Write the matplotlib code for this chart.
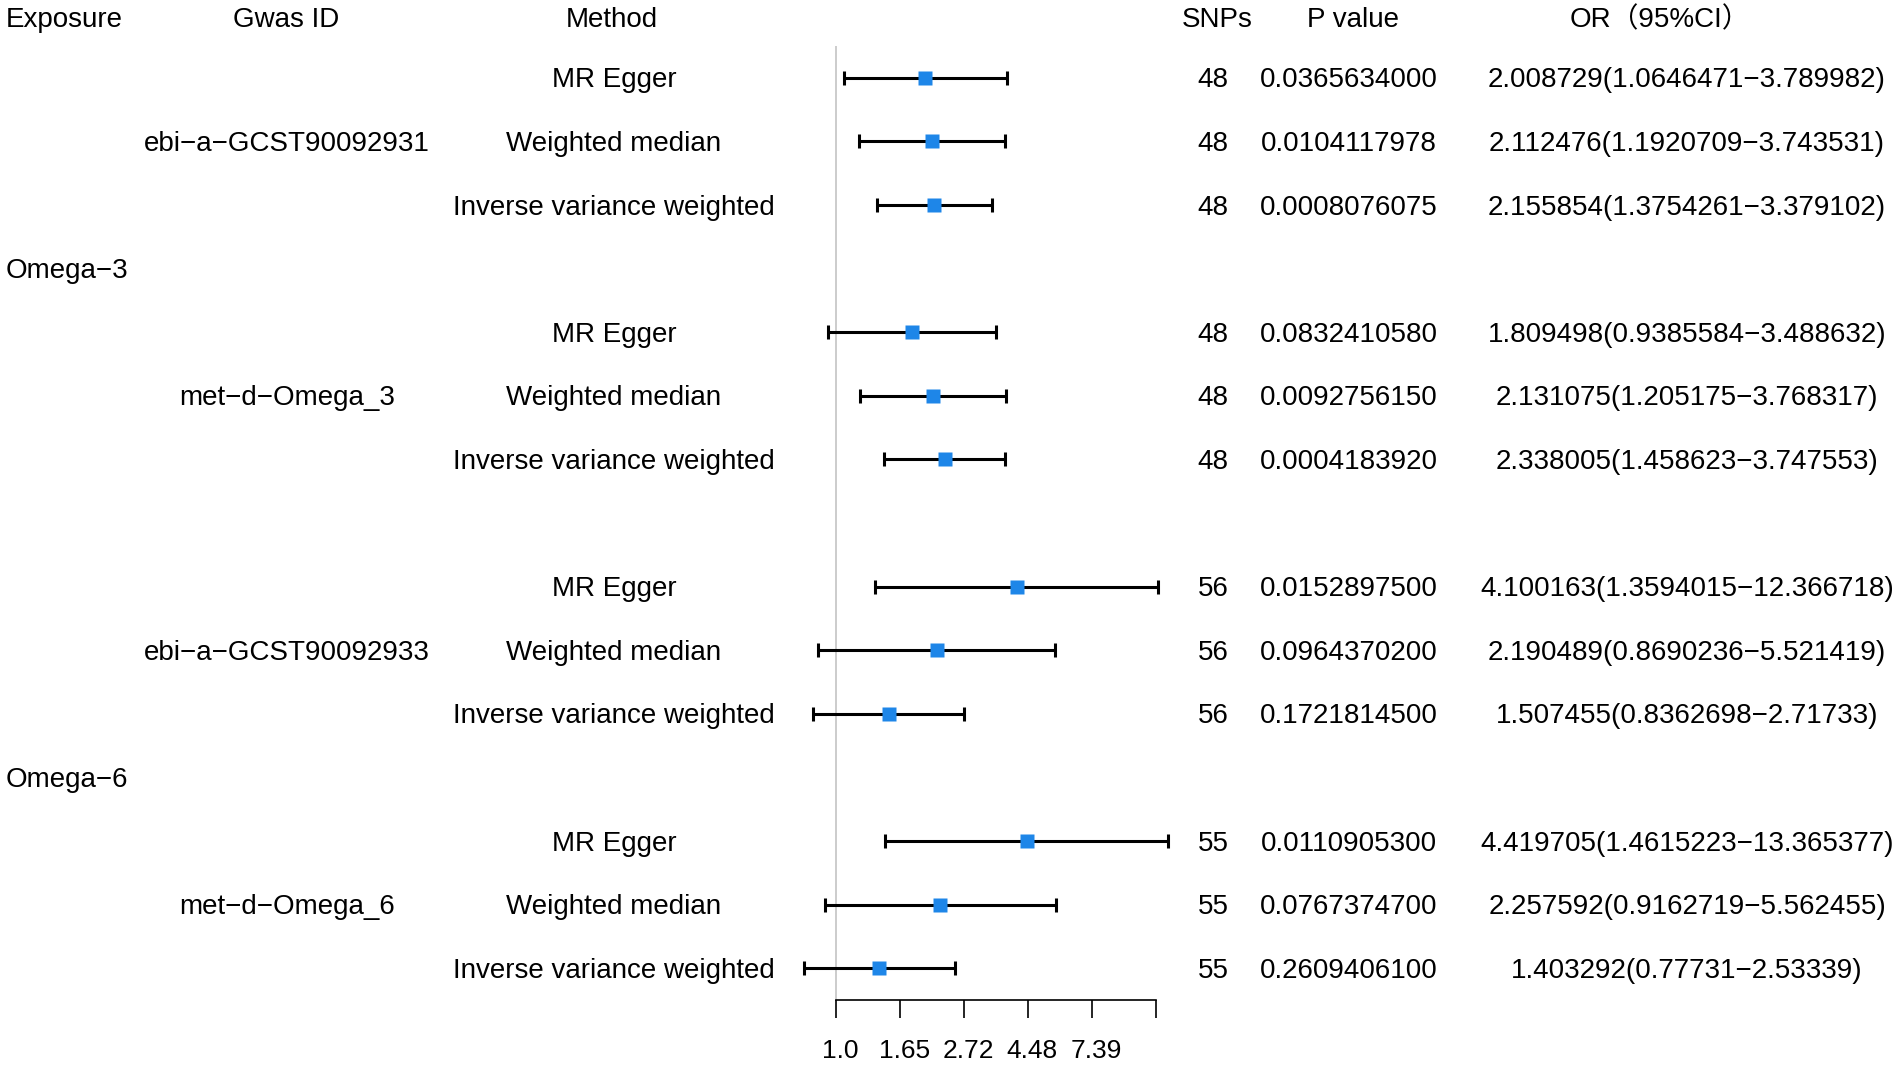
import numpy as np
import matplotlib
matplotlib.use("Agg")
import matplotlib.pyplot as plt
import matplotlib.transforms as mtransforms

plt.rcParams["font.family"] = ["Liberation Sans", "Noto Sans CJK SC", "DejaVu Sans"]

# ---------------------------------------------------------------------------
# Data (one entry per table row; None = label-only / blank row)
# ---------------------------------------------------------------------------
exposure = ["", "", "", "Omega−3", "", "", "", "", "", "", "", "Omega−6", "", "", ""]
gwas_id = ["", "ebi−a−GCST90092931", "", "", "", "met−d−Omega_3", "", "",
           "", "ebi−a−GCST90092933", "", "", "", "met−d−Omega_6", ""]
method = ["MR Egger", "Weighted median", "Inverse variance weighted", "",
          "MR Egger", "Weighted median", "Inverse variance weighted", "",
          "MR Egger", "Weighted median", "Inverse variance weighted", "",
          "MR Egger", "Weighted median", "Inverse variance weighted"]
snps = ["48", "48", "48", "", "48", "48", "48", "",
        "56", "56", "56", "", "55", "55", "55"]
p_value = ["0.0365634000", "0.0104117978", "0.0008076075", "",
           "0.0832410580", "0.0092756150", "0.0004183920", "",
           "0.0152897500", "0.0964370200", "0.1721814500", "",
           "0.0110905300", "0.0767374700", "0.2609406100"]
or_est = [2.008729, 2.112476, 2.155854, None,
          1.809498, 2.131075, 2.338005, None,
          4.100163, 2.190489, 1.507455, None,
          4.419705, 2.257592, 1.403292]
or_low = [1.0646471, 1.1920709, 1.3754261, None,
          0.9385584, 1.205175, 1.458623, None,
          1.3594015, 0.8690236, 0.8362698, None,
          1.4615223, 0.9162719, 0.77731]
or_high = [3.789982, 3.743531, 3.379102, None,
           3.488632, 3.768317, 3.747553, None,
           12.366718, 5.521419, 2.71733, None,
           13.365377, 5.562455, 2.53339]
or_text = ["2.008729(1.0646471−3.789982)", "2.112476(1.1920709−3.743531)",
           "2.155854(1.3754261−3.379102)", "",
           "1.809498(0.9385584−3.488632)", "2.131075(1.205175−3.768317)",
           "2.338005(1.458623−3.747553)", "",
           "4.100163(1.3594015−12.366718)", "2.190489(0.8690236−5.521419)",
           "1.507455(0.8362698−2.71733)", "",
           "4.419705(1.4615223−13.365377)", "2.257592(0.9162719−5.562455)",
           "1.403292(0.77731−2.53339)"]

tick_pos = [0.0, 0.5, 1.0, 1.5, 2.0, 2.5]          # log(OR)
tick_labels = ["1.0", "1.65", "2.72", "4.48", "7.39", ""]

headers = ["Exposure", "Gwas ID", "Method", "SNPs", "P value", "OR（95%CI）"]

# ---------------------------------------------------------------------------
# Layout
# ---------------------------------------------------------------------------
W, H = 1902, 1069
fig = plt.figure(figsize=(W / 100, H / 100), dpi=100)

x_lim = (-0.4, 2.8)
px_per_unit = 128.2
x0_px = 836
left_px = x0_px + x_lim[0] * px_per_unit
width_px = (x_lim[1] - x_lim[0]) * px_per_unit
top_px, bottom_px = 46, 1000
ax = fig.add_axes([left_px / W, 1 - bottom_px / H,
                   width_px / W, (bottom_px - top_px) / H])

n = len(method)
rows = np.arange(1, n + 1)
ax.set_xlim(*x_lim)
ax.set_ylim(n + 0.5, 0.5)

# reference line at OR = 1
ax.axvline(0, color="#c8c8c8", lw=1.3, zorder=1)

# CIs and point estimates
mask = np.array([v is not None for v in or_est])
est = np.log(np.array([v for v in or_est if v is not None]))
lo = np.log(np.array([v for v in or_low if v is not None]))
hi = np.log(np.array([v for v in or_high if v is not None]))
ax.errorbar(est, rows[mask], xerr=[est - lo, hi - est], fmt="none",
            ecolor="black", elinewidth=2.2, capsize=5, capthick=2.2, zorder=2)
ax.plot(est, rows[mask], "s", color="#1e86e8", ms=10, mec="none", zorder=3)

# axis styling
for s in ["top", "right", "left"]:
    ax.spines[s].set_visible(False)
ax.spines["bottom"].set_bounds(tick_pos[0], tick_pos[-1])
ax.spines["bottom"].set_linewidth(1.2)
ax.set_yticks([])
ax.set_xticks(tick_pos)
ax.set_xticklabels(tick_labels, fontsize=19)
ax.tick_params(axis="x", length=13, width=1.2, pad=15)
shift = mtransforms.ScaledTranslation(4 / 100, 0, fig.dpi_scale_trans)
for lab in ax.get_xticklabels():
    lab.set_transform(lab.get_transform() + shift)

# ---------------------------------------------------------------------------
# Table text
# ---------------------------------------------------------------------------
trans = mtransforms.blended_transform_factory(fig.transFigure, ax.transData)
trans = trans + mtransforms.ScaledTranslation(0, -2.5 / 100, fig.dpi_scale_trans)
fs = 20
header_y = 0.05

# (header x, value x, alignment) in pixels
columns = [
    (6, 6, "left", exposure),
    (286, 287, "center", gwas_id),
    (612, 614, "center", method),
    (1217, 1213, "center", snps),
    (1353, 1349, "center", p_value),
    (1660, 1687, "center", or_text),
]

for head, (hx, vx, ha, values) in zip(headers, columns):
    ax.text(hx / W, header_y, head, transform=trans, ha=ha, va="center",
            fontsize=fs, clip_on=False)
    for r, v in zip(rows, values):
        if v:
            ax.text(vx / W, r, v, transform=trans, ha=ha, va="center",
                    fontsize=fs, clip_on=False)

fig.savefig("out.png", dpi=100, facecolor="white")
